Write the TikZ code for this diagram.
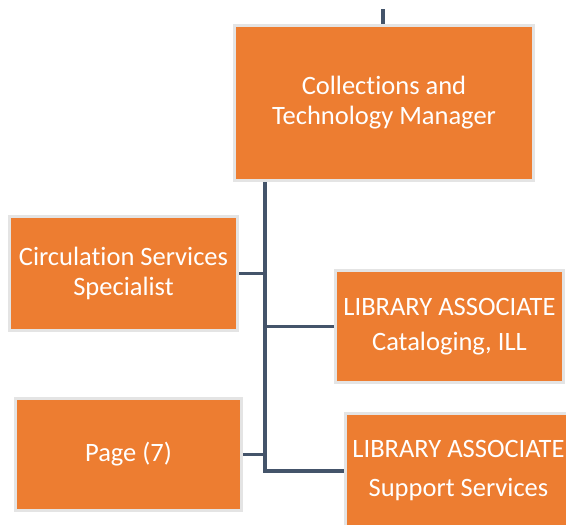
\documentclass[tikz,border=0pt]{standalone}
\usepackage{fontspec}
\setmainfont[Ligatures=NoCommon]{Carlito}
\definecolor{boxfill}{HTML}{ED7D31}
\definecolor{boxedge}{HTML}{E4E4E4}
\definecolor{linecol}{HTML}{44546A}
\begin{document}
\begin{tikzpicture}[x=1pt,y=-1pt,
  orgbox/.style={draw=boxedge, line width=3pt, fill=boxfill, text=white,
    align=center, inner sep=0pt, font=\fontsize{26.5}{30}\selectfont},
  conn/.style={draw=linecol, line width=3.5pt}]
\useasboundingbox (0,0) rectangle (566,525);
\clip (0,0) rectangle (566,525);
\node[orgbox, minimum width=299pt, minimum height=155pt] (mgr) at (384,103)
  {Collections and\\Technology Manager};
\node[orgbox, minimum width=228pt, minimum height=114pt] (circ) at (123.5,273.5)
  {Circulation Services\\Specialist};
\node[orgbox, minimum width=228pt, minimum height=112pt, font=\fontsize{26.5}{35}\selectfont] (cat) at (449.5,326.5)
  {LIBRARY ASSOCIATE\\Cataloging, ILL};
\node[orgbox, minimum width=226pt, minimum height=112pt] (page) at (128.5,454.5)
  {Page (7)};
\node[orgbox, minimum width=227pt, minimum height=115pt, font=\fontsize{26.5}{39}\selectfont] (sup) at (458.5,471)
  {LIBRARY ASSOCIATE\\Support Services};
\coordinate (top) at (383,9);
\coordinate (t) at (265,182);
\draw[conn] (top) -- (top |- mgr.north);
\draw[conn] (t |- mgr.south) -- (t |- sup.west) -- (sup.west);
\draw[conn] (circ.east) -- (circ.east -| t);
\draw[conn] (cat.west) -- (cat.west -| t);
\draw[conn] (page.east) -- (page.east -| t);
\end{tikzpicture}
\end{document}
